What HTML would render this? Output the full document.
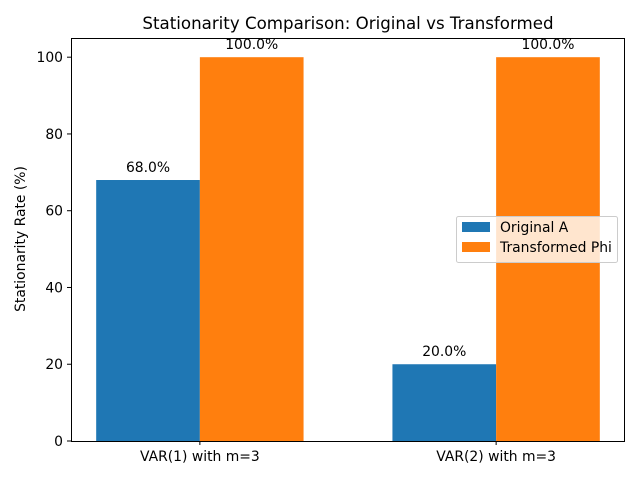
<!DOCTYPE html>
<html><head><meta charset="utf-8"><style>
body{margin:0;background:#fff;}
svg{display:block;font-family:"DejaVu Sans","Liberation Sans",sans-serif;}
</style></head><body>
<svg id="chart" width="640" height="480">
<rect width="640" height="480" fill="#fff"/>
<text x="348" y="29" font-size="16.67" text-anchor="middle">Stationarity Comparison: Original vs Transformed</text>
<text transform="translate(25,239) rotate(-90)" font-size="13.9" text-anchor="middle">Stationarity Rate (%)</text>
<g id="bars"></g>
<g id="axes"></g>
<g>
<rect x="456.5" y="216.5" width="161" height="46" rx="2" fill="#fff" fill-opacity="0.8" stroke="#ccc"/>
<rect x="462" y="222" width="28" height="10" fill="#1f77b4"/>
<text x="500" y="232" font-size="13.9">Original A</text>
<rect x="462" y="242" width="28" height="10" fill="#ff7f0e"/>
<text x="500" y="252" font-size="13.9">Transformed Phi</text>
</g>
</svg>
<script>
const categories = ["VAR(1) with m=3", "VAR(2) with m=3"];
const originalValues = [68, 20];
const transformedValues = [100, 100];
const yTicks = [0, 20, 40, 60, 80, 100];

const L=71,R=625,T=38,B=441;
const xmin=-0.435,xmax=1.435,ymax=105;
const xs=v=>L+(v-xmin)/(xmax-xmin)*(R-L);
const ys=v=>B-v/ymax*(B-T);
const NS="http://www.w3.org/2000/svg";
const bars=document.getElementById('bars');
const axes=document.getElementById('axes');
function mk(tag,attrs,parent,text){const e=document.createElementNS(NS,tag);for(const k in attrs)e.setAttribute(k,attrs[k]);if(text!==undefined)e.textContent=text;parent.appendChild(e);return e;}
const w=0.35;
categories.forEach((c,i)=>{
  [[originalValues[i],-w/2,'#1f77b4','original'],[transformedValues[i],w/2,'#ff7f0e','transformed']].forEach(([v,off,col,nm])=>{
    const x0=xs(i+off-w/2),x1=xs(i+off+w/2);
    const r=mk('rect',{x:x0,y:ys(v),width:x1-x0,height:B-ys(v),fill:col},bars);
    
    
    const t=mk('text',{x:(x0+x1)/2,y:ys(v)-8,'font-size':13.9,'text-anchor':'middle'},bars,v.toFixed(1)+'%');
    
    
  });
  const xx=xs(i);
  mk('line',{x1:xx,x2:xx,y1:B,y2:B+4,stroke:'#000'},axes);
  const lt=mk('text',{x:xx,y:B+20,'font-size':13.9,'text-anchor':'middle'},axes,c);
  
  
});
yTicks.forEach(v=>{
  const y=ys(v);
  mk('line',{x1:L-4,x2:L,y1:y,y2:y,stroke:'#000'},axes);
  const t=mk('text',{x:L-8,y:y+5,'font-size':13.9,'text-anchor':'end'},axes,v);
  
  
});
const f=mk('rect',{x:L+0.5,y:T+0.5,width:R-L-1,height:B-T,fill:'none',stroke:'#000'},axes);


</script>
</body></html>
